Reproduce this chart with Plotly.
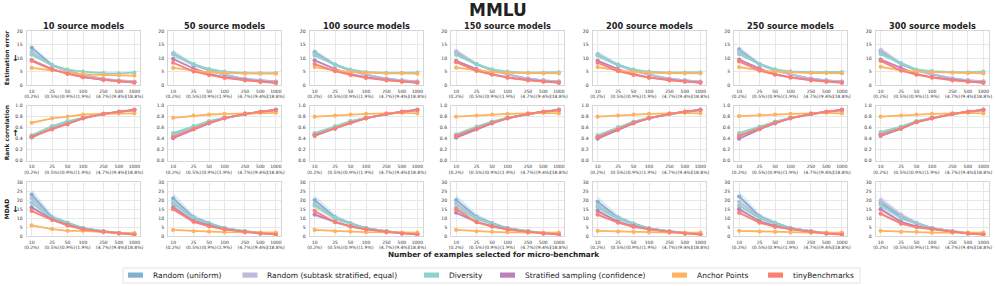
import plotly.graph_objects as go

# ---------------- data ----------------
n_examples = [10, 25, 50, 100, 250, 500, 1000]
tick_labels = ["10<br>(0.2%)", "25<br>(0.5%)", "50<br>(0.9%)", "100<br>(1.9%)",
               "250<br>(4.7%)", "500<br>(9.4%)", "1000<br>(18.8%)"]
source_models = [10, 50, 100, 150, 200, 250, 300]
methods = ["Random (uniform)", "Random (subtask stratified, equal)", "Diversity",
           "Stratified sampling (confidence)", "Anchor Points", "tinyBenchmarks"]
colors = ["#80B1D3", "#BEBADA", "#8DD3C7", "#BC80BD", "#FDB462", "#FB8072"]
metric_names = ["Estimation error", "Rank correlation", "MDAD"]
metric_arrows = ["←", "→", "←"]

# Estimation error (one row per source-model count)
err_random_uniform = [
    [13.8, 7.5, 5.3, 3.8, 2.4, 1.7, 1.3],
    [11.8, 7.6, 5.6, 3.9, 2.4, 1.8, 1.4],
    [12.2, 7.6, 5.5, 3.9, 2.5, 1.8, 1.4],
    [12.0, 7.7, 5.6, 4.0, 2.5, 1.8, 1.4],
    [11.2, 7.4, 5.4, 3.9, 2.4, 1.8, 1.3],
    [13.2, 7.8, 5.6, 4.0, 2.5, 1.8, 1.4],
    [12.5, 7.8, 5.5, 4.0, 2.5, 1.8, 1.4],
]
err_random_stratified = [
    [12.3, 7.2, 5.2, 3.7, 2.4, 1.8, 1.4],
    [11.5, 7.5, 5.5, 3.8, 2.3, 1.7, 1.3],
    [11.6, 7.5, 5.4, 3.9, 2.4, 1.8, 1.4],
    [12.5, 7.8, 5.6, 4.0, 2.5, 1.8, 1.4],
    [11.5, 7.5, 5.4, 3.9, 2.5, 1.8, 1.4],
    [12.4, 7.6, 5.5, 4.0, 2.5, 1.8, 1.4],
    [13.0, 8.0, 5.7, 4.1, 2.6, 1.9, 1.5],
]
err_diversity = [
    [11.3, 7.4, 5.8, 5.0, 4.5, 4.4, 4.7],
    [11.5, 7.8, 6.0, 5.0, 4.5, 4.5, 4.5],
    [11.0, 7.6, 5.8, 4.9, 4.6, 4.6, 4.7],
    [11.3, 7.8, 5.9, 5.0, 4.7, 4.7, 4.8],
    [11.0, 7.6, 5.8, 5.0, 4.7, 4.7, 4.8],
    [11.5, 7.9, 5.9, 5.1, 4.8, 4.8, 4.9],
    [11.5, 8.2, 5.8, 5.2, 4.8, 4.8, 5.0],
]
err_stratified_conf = [
    [9.3, 6.0, 4.3, 3.0, 2.0, 1.4, 1.0],
    [9.7, 6.2, 4.2, 3.0, 2.0, 1.4, 1.0],
    [9.2, 6.0, 4.1, 3.0, 2.0, 1.4, 1.0],
    [9.0, 6.0, 4.1, 2.9, 2.0, 1.4, 1.0],
    [9.0, 6.0, 4.1, 2.9, 2.0, 1.4, 1.0],
    [9.5, 6.2, 4.1, 3.0, 2.0, 1.4, 1.0],
    [9.5, 6.3, 4.1, 3.0, 2.0, 1.4, 1.0],
]
err_anchor = [
    [6.4, 5.5, 4.6, 4.1, 3.8, 3.7, 3.6],
    [6.4, 5.4, 4.8, 4.5, 4.3, 4.3, 4.3],
    [6.7, 5.5, 4.9, 4.6, 4.4, 4.4, 4.3],
    [6.5, 5.5, 4.9, 4.6, 4.5, 4.4, 4.4],
    [6.7, 5.5, 4.9, 4.6, 4.5, 4.4, 4.4],
    [6.7, 5.5, 5.0, 4.7, 4.5, 4.5, 4.4],
    [6.8, 5.5, 5.0, 4.8, 4.6, 4.5, 4.4],
]
err_tiny = [
    [9.0, 5.8, 4.3, 3.0, 2.0, 1.4, 1.0],
    [8.3, 5.1, 3.8, 2.7, 1.8, 1.2, 0.8],
    [7.8, 5.2, 3.8, 2.7, 1.8, 1.3, 0.9],
    [8.5, 5.3, 3.9, 2.8, 1.8, 1.3, 0.9],
    [8.3, 5.2, 3.8, 2.8, 1.8, 1.3, 0.9],
    [8.8, 5.4, 3.9, 2.8, 1.8, 1.3, 0.9],
    [9.0, 5.4, 3.9, 2.8, 1.8, 1.3, 0.9],
]

# Rank correlation
rank_random_uniform = [
    [0.42, 0.60, 0.70, 0.78, 0.85, 0.89, 0.92],
    [0.47, 0.61, 0.71, 0.78, 0.85, 0.89, 0.92],
    [0.47, 0.61, 0.71, 0.78, 0.85, 0.89, 0.92],
    [0.45, 0.60, 0.70, 0.78, 0.85, 0.89, 0.92],
    [0.43, 0.59, 0.70, 0.78, 0.85, 0.89, 0.92],
    [0.45, 0.60, 0.70, 0.78, 0.85, 0.89, 0.92],
    [0.48, 0.61, 0.71, 0.78, 0.85, 0.89, 0.92],
]
rank_random_stratified = [
    [0.43, 0.61, 0.70, 0.78, 0.85, 0.89, 0.92],
    [0.46, 0.61, 0.71, 0.78, 0.85, 0.89, 0.92],
    [0.47, 0.61, 0.71, 0.78, 0.85, 0.89, 0.92],
    [0.45, 0.60, 0.70, 0.78, 0.85, 0.89, 0.92],
    [0.43, 0.59, 0.70, 0.78, 0.85, 0.89, 0.92],
    [0.45, 0.60, 0.70, 0.78, 0.85, 0.89, 0.92],
    [0.48, 0.61, 0.71, 0.78, 0.85, 0.89, 0.92],
]
rank_diversity = [
    [0.46, 0.63, 0.72, 0.78, 0.85, 0.89, 0.92],
    [0.50, 0.63, 0.72, 0.78, 0.85, 0.89, 0.92],
    [0.50, 0.63, 0.72, 0.78, 0.85, 0.89, 0.92],
    [0.48, 0.62, 0.71, 0.78, 0.85, 0.89, 0.92],
    [0.46, 0.61, 0.71, 0.78, 0.85, 0.89, 0.92],
    [0.50, 0.62, 0.71, 0.78, 0.85, 0.89, 0.92],
    [0.52, 0.62, 0.72, 0.78, 0.85, 0.89, 0.92],
]
rank_stratified_conf = [
    [0.44, 0.57, 0.66, 0.77, 0.85, 0.89, 0.93],
    [0.41, 0.57, 0.68, 0.77, 0.85, 0.89, 0.93],
    [0.45, 0.58, 0.69, 0.77, 0.85, 0.89, 0.93],
    [0.42, 0.57, 0.68, 0.77, 0.85, 0.89, 0.93],
    [0.40, 0.56, 0.68, 0.77, 0.85, 0.89, 0.93],
    [0.40, 0.57, 0.68, 0.77, 0.85, 0.89, 0.93],
    [0.45, 0.58, 0.70, 0.77, 0.85, 0.89, 0.93],
]
rank_anchor = [
    [0.69, 0.77, 0.80, 0.84, 0.85, 0.86, 0.86],
    [0.78, 0.82, 0.84, 0.85, 0.86, 0.87, 0.87],
    [0.80, 0.82, 0.84, 0.85, 0.86, 0.87, 0.86],
    [0.80, 0.82, 0.84, 0.85, 0.86, 0.87, 0.86],
    [0.80, 0.82, 0.84, 0.85, 0.86, 0.87, 0.86],
    [0.81, 0.83, 0.84, 0.85, 0.86, 0.87, 0.86],
    [0.80, 0.82, 0.84, 0.85, 0.86, 0.87, 0.86],
]
rank_tiny = [
    [0.43, 0.58, 0.67, 0.77, 0.85, 0.89, 0.92],
    [0.43, 0.58, 0.69, 0.77, 0.85, 0.89, 0.92],
    [0.47, 0.59, 0.69, 0.77, 0.85, 0.89, 0.92],
    [0.45, 0.58, 0.69, 0.77, 0.85, 0.89, 0.92],
    [0.43, 0.57, 0.69, 0.77, 0.85, 0.89, 0.92],
    [0.45, 0.58, 0.69, 0.77, 0.85, 0.89, 0.92],
    [0.47, 0.59, 0.70, 0.77, 0.85, 0.89, 0.92],
]

# MDAD
mdad_random_uniform = [
    [23.0, 10.5, 7.5, 4.5, 2.8, 1.8, 1.3],
    [21.0, 10.5, 7.3, 4.5, 2.8, 1.8, 1.3],
    [20.0, 10.5, 7.2, 4.5, 2.8, 1.8, 1.3],
    [20.0, 10.8, 7.3, 4.5, 2.8, 1.8, 1.3],
    [19.0, 10.3, 7.0, 4.4, 2.7, 1.8, 1.3],
    [22.0, 11.0, 7.5, 4.6, 2.8, 1.8, 1.3],
    [18.5, 11.0, 7.3, 4.5, 2.8, 1.8, 1.3],
]
mdad_random_stratified = [
    [21.0, 10.0, 7.2, 4.3, 2.7, 1.8, 1.3],
    [19.0, 10.0, 7.0, 4.4, 2.7, 1.8, 1.3],
    [18.0, 10.0, 7.0, 4.4, 2.7, 1.8, 1.3],
    [18.0, 10.2, 7.0, 4.4, 2.7, 1.8, 1.3],
    [17.0, 10.0, 6.9, 4.3, 2.7, 1.8, 1.3],
    [19.0, 10.5, 7.2, 4.5, 2.8, 1.8, 1.3],
    [19.8, 11.8, 7.5, 4.5, 2.8, 1.8, 1.3],
]
mdad_diversity = [
    [18.5, 10.2, 7.3, 4.5, 2.8, 1.8, 1.3],
    [18.0, 10.0, 7.0, 4.5, 2.8, 1.8, 1.3],
    [17.0, 10.0, 7.0, 4.5, 2.8, 1.8, 1.3],
    [16.0, 9.8, 6.8, 4.4, 2.8, 1.8, 1.3],
    [16.0, 9.8, 6.8, 4.4, 2.8, 1.8, 1.3],
    [17.0, 10.0, 7.0, 4.5, 2.8, 1.8, 1.3],
    [17.5, 10.0, 7.0, 4.5, 2.8, 1.8, 1.3],
]
mdad_stratified_conf = [
    [16.0, 9.3, 6.3, 4.0, 2.5, 1.7, 1.2],
    [16.0, 8.5, 6.0, 4.0, 2.4, 1.6, 1.1],
    [12.0, 8.0, 5.5, 3.9, 2.4, 1.6, 1.1],
    [13.0, 8.0, 5.6, 3.9, 2.4, 1.6, 1.1],
    [14.0, 8.0, 5.6, 4.0, 2.4, 1.6, 1.1],
    [15.0, 8.3, 5.7, 4.0, 2.4, 1.6, 1.1],
    [15.0, 8.0, 5.5, 4.0, 2.4, 1.6, 1.1],
]
mdad_anchor = [
    [6.0, 4.0, 3.0, 3.0, 2.3, 1.8, 1.8],
    [3.5, 2.8, 2.6, 2.3, 2.1, 2.0, 2.0],
    [3.5, 2.8, 2.6, 2.3, 2.1, 2.0, 2.0],
    [3.5, 2.8, 2.5, 2.2, 2.0, 2.0, 2.0],
    [3.0, 2.6, 2.4, 2.1, 2.0, 2.0, 2.0],
    [3.0, 2.6, 2.4, 2.1, 2.0, 2.0, 2.0],
    [3.0, 2.5, 2.5, 2.0, 2.0, 2.0, 2.0],
]
mdad_tiny = [
    [14.0, 9.0, 6.0, 3.8, 2.5, 1.6, 1.0],
    [15.0, 8.0, 5.5, 3.8, 2.4, 1.5, 1.0],
    [14.0, 7.8, 5.3, 3.8, 2.4, 1.5, 1.0],
    [15.0, 7.8, 5.3, 3.8, 2.4, 1.5, 1.0],
    [12.0, 7.5, 5.2, 3.8, 2.4, 1.5, 1.0],
    [13.0, 7.5, 5.2, 3.9, 2.4, 1.5, 1.0],
    [12.5, 7.0, 5.0, 4.0, 2.4, 1.5, 1.0],
]

# half-widths of the shaded uncertainty bands (per metric, per method)
err_band = [
    [1.3, 0.6, 0.4, 0.3, 0.2, 0.15, 0.1],
    [1.1, 0.5, 0.35, 0.25, 0.2, 0.15, 0.1],
    [0.6, 0.3, 0.25, 0.2, 0.15, 0.1, 0.1],
    [0.5, 0.3, 0.2, 0.15, 0.1, 0.1, 0.1],
    [0.3, 0.2, 0.15, 0.1, 0.1, 0.1, 0.1],
    [0.5, 0.3, 0.2, 0.15, 0.1, 0.1, 0.1],
]
rank_band = [
    [0.03, 0.02, 0.015, 0.01, 0.006, 0.004, 0.003],
    [0.03, 0.02, 0.015, 0.01, 0.006, 0.004, 0.003],
    [0.02, 0.015, 0.01, 0.008, 0.005, 0.004, 0.003],
    [0.015, 0.01, 0.008, 0.006, 0.004, 0.003, 0.003],
    [0.01, 0.008, 0.006, 0.005, 0.004, 0.003, 0.003],
    [0.015, 0.01, 0.008, 0.006, 0.004, 0.003, 0.003],
]
mdad_band = [
    [3.0, 1.6, 0.9, 0.5, 0.3, 0.2, 0.1],
    [2.6, 1.4, 0.8, 0.5, 0.3, 0.2, 0.1],
    [1.5, 0.9, 0.6, 0.4, 0.2, 0.15, 0.1],
    [1.0, 0.6, 0.4, 0.3, 0.2, 0.1, 0.1],
    [0.4, 0.3, 0.2, 0.2, 0.1, 0.1, 0.1],
    [1.0, 0.6, 0.4, 0.3, 0.2, 0.1, 0.1],
]

metric_data = [
    [err_random_uniform, err_random_stratified, err_diversity,
     err_stratified_conf, err_anchor, err_tiny],
    [rank_random_uniform, rank_random_stratified, rank_diversity,
     rank_stratified_conf, rank_anchor, rank_tiny],
    [mdad_random_uniform, mdad_random_stratified, mdad_diversity,
     mdad_stratified_conf, mdad_anchor, mdad_tiny],
]
metric_bands = [err_band, rank_band, mdad_band]
y_ranges = [[0, 20], [0, 1.0], [0, 30]]
y_dticks = [5, 0.2, 5]

# ---------------- layout geometry ----------------
W, H = 996, 286
col_left0, col_step, col_w = 26.5, 141.5, 113.0
row_tops = [31.0, 105.7, 182.0]
row_bots = [85.3, 160.7, 236.3]


def hexa(c, a):
    c = c.lstrip("#")
    return "rgba(%d,%d,%d,%.2f)" % (int(c[0:2], 16), int(c[2:4], 16), int(c[4:6], 16), a)


def px_x(v):
    return v / W


def px_y(v):
    return 1 - v / H


fig = go.Figure()
FONT = "DejaVu Sans"
layout_axes = {}
annotations = []

for r in range(3):
    for c in range(7):
        idx = r * 7 + c + 1
        xa = "x" if idx == 1 else "x%d" % idx
        ya = "y" if idx == 1 else "y%d" % idx
        xl = col_left0 + col_step * c
        layout_axes["xaxis" if idx == 1 else "xaxis%d" % idx] = dict(
            domain=[px_x(xl), px_x(xl + col_w)], anchor=ya, type="log",
            range=[0.9, 3.1], tickvals=n_examples, ticktext=tick_labels,
            tickfont=dict(size=4.5, color="#333333", family=FONT),
            showgrid=True, gridcolor="#e8e8e8", gridwidth=0.8,
            showline=True, mirror=True, linecolor="#d6d6d6", linewidth=0.8,
            ticks="", zeroline=False, tickangle=0, ticklabelstandoff=1,
            automargin=False,
        )
        layout_axes["yaxis" if idx == 1 else "yaxis%d" % idx] = dict(
            domain=[px_y(row_bots[r]), px_y(row_tops[r])], anchor=xa,
            range=y_ranges[r], dtick=y_dticks[r], tick0=0,
            tickformat=".1f" if r == 1 else "d",
            tickfont=dict(size=4.6, color="#333333", family=FONT),
            showgrid=True, gridcolor="#e8e8e8", gridwidth=0.8,
            showline=True, mirror=True, linecolor="#d6d6d6", linewidth=0.8,
            ticks="", zeroline=False, ticklabelstandoff=2, automargin=False,
        )
        for m in range(6):
            vals = metric_data[r][m][c]
            band = metric_bands[r][m]
            up = [v + b for v, b in zip(vals, band)]
            lo = [max(v - b, 0) for v, b in zip(vals, band)]
            fig.add_trace(go.Scatter(
                x=n_examples + n_examples[::-1], y=up + lo[::-1],
                fill="toself", fillcolor=hexa(colors[m], 0.25),
                line=dict(width=0), mode="lines", hoverinfo="skip",
                showlegend=False, xaxis=xa, yaxis=ya))
        for m in range(6):
            vals = metric_data[r][m][c]
            fig.add_trace(go.Scatter(
                x=n_examples, y=vals, mode="lines+markers", name=methods[m],
                line=dict(color=colors[m], width=1.8),
                marker=dict(color=colors[m], size=4.2),
                showlegend=False, xaxis=xa, yaxis=ya))


def note(text, x, y, size, angle=0, xanchor="center", bold=True):
    annotations.append(dict(
        text=("<b>%s</b>" % text) if bold else text, x=px_x(x), y=px_y(y),
        xref="paper", yref="paper", xanchor=xanchor, yanchor="middle",
        showarrow=False, textangle=angle,
        font=dict(size=size, color="#222222", family=FONT)))


# column titles
for c in range(7):
    note("%d source models" % source_models[c], col_left0 + col_step * c + col_w / 2, 25.5, 8.2)

# row labels
for r in range(3):
    yc = (row_tops[r] + row_bots[r]) / 2
    note(metric_names[r], 7, yc, 5.9, angle=-90)
    note(metric_arrows[r], 15.5, yc, 8.5, angle=-90)

# main title and x title
note("MMLU", 498, 10.5, 17)
note("Number of examples selected for micro-benchmark", 493, 254.5, 7.3)

# legend (drawn as a boxed row of swatches)
shapes = [dict(type="rect", xref="paper", yref="paper", x0=px_x(123), x1=px_x(860),
               y0=px_y(283), y1=px_y(268), line=dict(color="#dcdcdc", width=0.8),
               fillcolor="white", layer="below")]
sw_x = [128, 242.5, 424, 500, 672, 768]
for m in range(6):
    shapes.append(dict(type="rect", xref="paper", yref="paper",
                       x0=px_x(sw_x[m]), x1=px_x(sw_x[m] + 15),
                       y0=px_y(277.7), y1=px_y(272.5),
                       fillcolor=colors[m], line=dict(width=0)))
    note(methods[m], sw_x[m] + 22.5, 275.3, 7.5, xanchor="left", bold=False)

fig.update_layout(
    width=W, height=H, autosize=False,
    margin=dict(l=0, r=0, t=0, b=0, pad=0),
    paper_bgcolor="white", plot_bgcolor="white",
    showlegend=False, annotations=annotations, shapes=shapes,
    font=dict(family=FONT), **layout_axes)

fig.write_html(
    "out.html",
    config={"displayModeBar": False},
    post_script="document.body.style.margin='0px';document.body.style.overflow='hidden';",
)
